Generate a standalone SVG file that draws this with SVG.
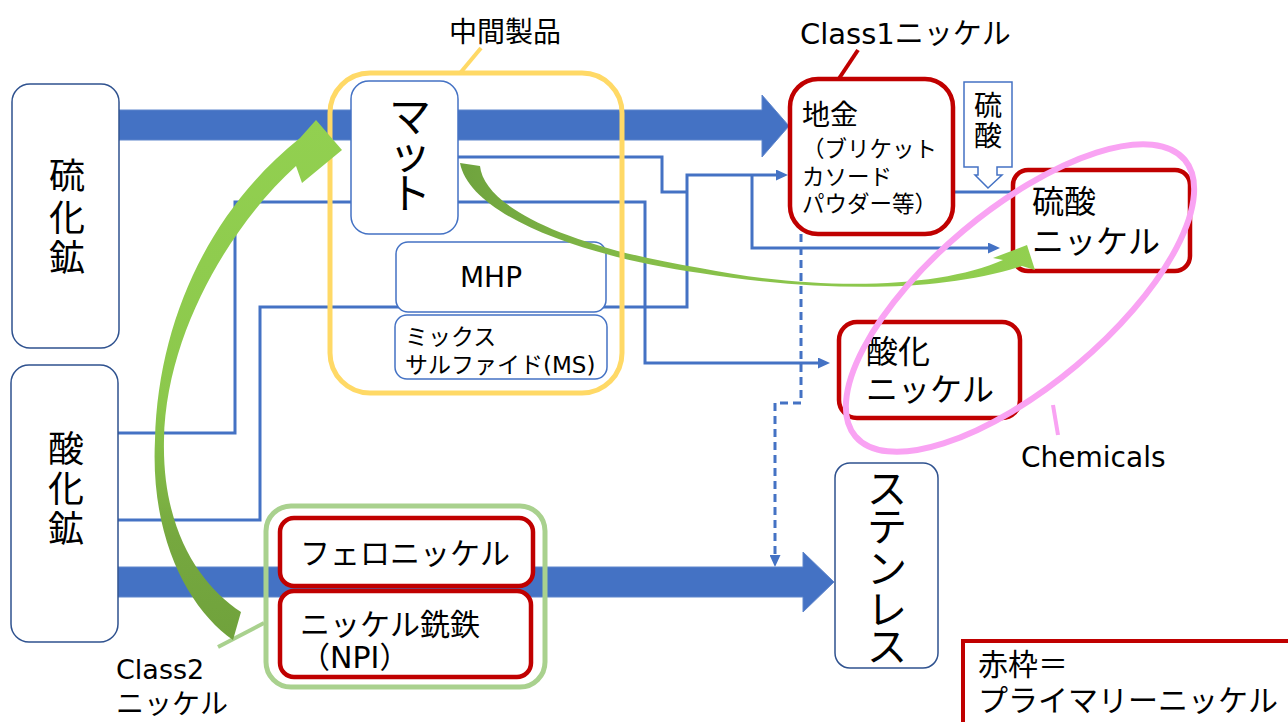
<svg xmlns="http://www.w3.org/2000/svg" width="1288" height="722" viewBox="0 0 1288 722">
<style>
.jp{font-family:"Noto Sans CJK JP",sans-serif;fill:#000}
.lat{font-family:"DejaVu Sans","Noto Sans CJK JP",sans-serif;fill:#000}
.nb{fill:#fff;stroke:#4472C4;stroke-width:1.5}
.nd{fill:#fff;stroke:#2F528F;stroke-width:1.5}
.nr{fill:#fff;stroke:#C00000;stroke-width:4.5}
.conn{fill:none;stroke:#4472C4;stroke-width:3}
.thick{fill:#4472C4;stroke:#5F86CC;stroke-width:1}
</style>
<defs>
<marker id="ah" viewBox="0 0 12 11" markerWidth="12" markerHeight="11" refX="6" refY="5.5" orient="auto" markerUnits="userSpaceOnUse">
<path d="M0,0 L12,5.5 L0,11 Z" fill="#4472C4"/>
</marker>
<linearGradient id="g1" gradientUnits="userSpaceOnUse" x1="0" y1="120" x2="0" y2="640">
<stop offset="0" stop-color="#92D050"/>
<stop offset="0.55" stop-color="#8CC84C"/>
<stop offset="0.8" stop-color="#76A83F"/>
<stop offset="1" stop-color="#70A23C"/>
</linearGradient>
<linearGradient id="g2" gradientUnits="userSpaceOnUse" x1="460" y1="0" x2="1035" y2="0">
<stop offset="0" stop-color="#6FA33E"/>
<stop offset="0.35" stop-color="#86BE49"/>
<stop offset="1" stop-color="#92D050"/>
</linearGradient>
</defs>
<rect width="1288" height="722" fill="#fff"/>

<g id="connectors">
<path class="conn" d="M458,157 H662 V192 H687"/>
<path class="conn" d="M118,520 H260 V307 H687 V175 H782" marker-end="url(#ah)"/>
<path class="conn" d="M752,175 V248 H994" marker-end="url(#ah)"/>
<path class="conn" d="M118,433 H235 V202 H645 V363 H824" marker-end="url(#ah)"/>
<path class="conn" d="M953,192 H1013"/>
<path class="conn" d="M801,234 V403 H775 V561" stroke-dasharray="8 5" marker-end="url(#ah)"/>
<path class="thick" d="M119,110 H762 V95 L789,126 L762,157 V140 H119 Z"/>
<path class="thick" d="M118,567 H803 V552 L834,582 L803,612 V597 H118 Z"/>
</g>

<g id="node-sulfide-ore">
<rect class="nd" x="12" y="84" width="107" height="264" rx="18"/>
<text class="jp" font-size="36" text-anchor="middle" x="67" y="189">硫</text>
<text class="jp" font-size="36" text-anchor="middle" x="67" y="231">化</text>
<text class="jp" font-size="36" text-anchor="middle" x="67" y="271">鉱</text>
</g>
<g id="node-oxide-ore">
<rect class="nd" x="11" y="365" width="107" height="277" rx="18"/>
<text class="jp" font-size="36" text-anchor="middle" x="66" y="462">酸</text>
<text class="jp" font-size="36" text-anchor="middle" x="66" y="502">化</text>
<text class="jp" font-size="36" text-anchor="middle" x="66" y="542">鉱</text>
</g>
<g id="node-matte">
<rect class="nb" x="351" y="81" width="107" height="153" rx="18"/>
<text class="jp" font-size="42" text-anchor="middle" x="410" y="132">マ</text>
<text class="jp" font-size="42" text-anchor="middle" x="410" y="169">ッ</text>
<text class="jp" font-size="42" text-anchor="middle" x="410" y="209">ト</text>
</g>
<g id="node-mhp">
<rect class="nb" x="396" y="242" width="210" height="70" rx="12"/>
<text class="lat" font-size="28" text-anchor="middle" x="491" y="287">MHP</text>
</g>
<g id="node-ms">
<rect class="nb" x="395" y="315" width="212" height="64" rx="12"/>
<text class="jp" font-size="23" x="405" y="345">ミックス</text>
<text class="lat" font-size="23" x="405" y="373">サルファイド(MS)</text>
</g>
<g id="node-metal">
<rect class="nr" x="790" y="79" width="163" height="155" rx="28"/>
<text class="jp" font-size="28" x="802" y="125">地金</text>
<text class="jp" font-size="22.5" x="802" y="157">（ブリケット</text>
<text class="jp" font-size="22.5" x="802" y="185">カソード</text>
<text class="jp" font-size="22.5" x="802" y="212">パウダー等）</text>
</g>
<g id="node-sulfuric-acid">
<path d="M964,82 H1012 V167 H997 V175 H1002 L988,188 L975,175 H978 V167 H964 Z" fill="#fff" stroke="#4472C4" stroke-width="1.5"/>
<text class="jp" font-size="28" text-anchor="middle" x="988" y="116">硫</text>
<text class="jp" font-size="28" text-anchor="middle" x="988" y="146">酸</text>
</g>
<g id="node-nickel-sulfate">
<rect class="nr" x="1013" y="170" width="177" height="101" rx="15"/>
<text class="jp" font-size="32" x="1032" y="213">硫酸</text>
<text class="jp" font-size="32" x="1032" y="253">ニッケル</text>
</g>
<g id="node-nickel-oxide">
<rect class="nr" x="839" y="322" width="181" height="96" rx="18"/>
<text class="jp" font-size="32" x="866" y="363">酸化</text>
<text class="jp" font-size="32" x="866" y="401">ニッケル</text>
</g>
<g id="node-stainless">
<rect class="nd" x="835" y="463" width="103" height="205" rx="15"/>
<text class="jp" font-size="40" text-anchor="middle" x="887" y="503">ス</text>
<text class="jp" font-size="40" text-anchor="middle" x="887" y="541">テ</text>
<text class="jp" font-size="40" text-anchor="middle" x="887" y="583">ン</text>
<text class="jp" font-size="40" text-anchor="middle" x="887" y="624">レ</text>
<text class="jp" font-size="40" text-anchor="middle" x="887" y="661">ス</text>
</g>
<g id="node-ferronickel">
<rect class="nr" x="280" y="518" width="253" height="68" rx="14"/>
<text class="jp" font-size="30" x="300" y="564">フェロニッケル</text>
</g>
<g id="node-npi">
<rect class="nr" x="280" y="591" width="251" height="86" rx="14"/>
<text class="jp" font-size="30" x="300" y="635">ニッケル銑鉄</text>
<text class="lat" font-size="30" x="300" y="668">（NPI）</text>
</g>
<g id="node-legend">
<rect x="963" y="641" width="340" height="100" fill="#fff" stroke="#C00000" stroke-width="4"/>
<text class="jp" font-size="30" x="978" y="675">赤枠＝</text>
<text class="jp" font-size="30" x="978" y="711">プライマリーニッケル</text>
</g>

<g id="arrow-matte-to-sulfate">
<path d="M480,166 C484,205 560,245 700,268 C820,292 940,288 1003,260 L993,258 L1027,245 L1035,270 L1022,266 C940,293 820,292 700,273 C580,256 470,215 460,163 Z" fill="url(#g2)"/>
</g>

<g id="group-intermediate">
<rect x="330" y="73" width="292" height="320" rx="40" fill="none" stroke="#FFD966" stroke-width="5"/>
<line x1="481" y1="48" x2="461" y2="72" stroke="#FFD966" stroke-width="4"/>
<text class="jp" font-size="28" text-anchor="middle" x="505" y="42">中間製品</text>
</g>

<g id="group-class2">
<rect x="266" y="506" width="279" height="181" rx="25" fill="none" stroke="#A9D18E" stroke-width="5"/>
<line x1="218" y1="647" x2="264" y2="623" stroke="#A9D18E" stroke-width="4"/>
<text class="lat" font-size="27" x="116" y="679">Class2</text>
<text class="jp" font-size="28" x="116" y="714">ニッケル</text>
</g>

<g id="arrow-class2-to-matte">
<path d="M233,640 C190,610 150,540 155,440 C158,320 210,210 300,138 L316,120 L342,150 L302,183 L296,166 C234,222 166,330 164,440 C162,530 200,585 241,612 Z" fill="url(#g1)"/>
</g>

<g id="group-chemicals">
<ellipse cx="1020" cy="298" rx="215" ry="88" transform="rotate(-40 1020 298)" fill="none" stroke="#F9A3F3" stroke-width="6"/>
<line x1="1053" y1="405" x2="1058" y2="435" stroke="#F9A3F3" stroke-width="4"/>
<text class="lat" font-size="28" x="1021" y="467">Chemicals</text>
</g>

<g id="group-class1">
<line x1="858" y1="50" x2="838" y2="80" stroke="#C00000" stroke-width="4"/>
<text class="lat" font-size="29" x="800" y="44">Class1ニッケル</text>
</g>
</svg>
